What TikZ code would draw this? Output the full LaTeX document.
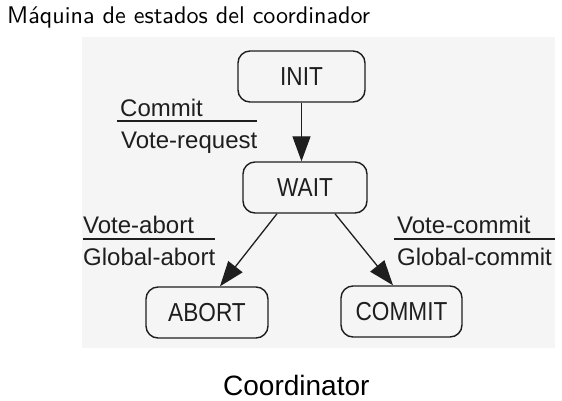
\documentclass[tikz,border=0pt]{standalone}
\usepackage{fontspec}
\usepackage{graphicx}
\newfontfamily\labfont{Liberation Sans}
\newfontfamily\statefont[FakeStretch=0.87]{Liberation Sans}
\newfontfamily\titlefont{lmsans10-regular.otf}
\usetikzlibrary{arrows.meta}
\definecolor{panel}{HTML}{F5F5F5}
\definecolor{ink}{HTML}{1E1E1E}
\begin{document}
\begin{tikzpicture}[x=1pt,y=-1pt,
  statebox/.style={draw=ink, line width=1.4pt, rounded corners=12pt,
    minimum height=51pt, inner sep=0pt, text=ink,
    font=\statefont\fontsize{26}{30}\selectfont},
  lbl/.style={anchor=base west, inner sep=0pt, text=ink,
    font=\labfont\fontsize{24}{28}\selectfont},
  conn/.style={draw=ink, line width=1.3pt, -{Triangle[length=25pt,width=18pt]}},
  fracline/.style={draw=ink, line width=1.3pt}]
\useasboundingbox (0,0) rectangle (562,400);
\fill[panel] (82,37) rectangle (555,348);
% title
\node[anchor=base west, inner sep=0pt] (title) at (7,23) {\resizebox{363pt}{!}{\titlefont\fontsize{24}{28}\selectfont Máquina de estados del coordinador}};
% states
\node[statebox, minimum width=127pt] (INIT) at (301.5,76.5) {INIT};
\node[statebox, minimum width=124pt] (WAIT) at (305,187.5) {WAIT};
\node[statebox, minimum width=122pt] (ABORT) at (207,312.5) {ABORT};
\node[statebox, minimum width=121pt] (COMMIT) at (401.5,311.5) {COMMIT};
% connectors
\draw[conn] (INIT) -- (INIT |- WAIT.north);
\draw[conn] ([xshift=-28pt]WAIT.south) -- ([xshift=13pt]ABORT.north);
\draw[conn] ([xshift=30pt]WAIT.south) -- ([xshift=-8.5pt]COMMIT.north);
% transition labels
\node[lbl] (l1a) at (120,116) {Commit};
\node[lbl] (l1b) at (121,148) {Vote-request};
\draw[fracline] (117,121) -- (257,121);
\node[lbl] (l2a) at (83,233) {Vote-abort};
\node[lbl] (l2b) at (83,265) {Global-abort};
\draw[fracline] (83,239) -- (215,239);
\node[lbl] (l3a) at (397,233) {Vote-commit};
\node[lbl] (l3b) at (397,265) {Global-commit};
\draw[fracline] (394,239) -- (555,239);
% caption
\node[anchor=base west, inner sep=0pt, font=\labfont\fontsize{28}{32}\selectfont] (caption) at (223,395) {Coordinator};
\end{tikzpicture}
\end{document}
